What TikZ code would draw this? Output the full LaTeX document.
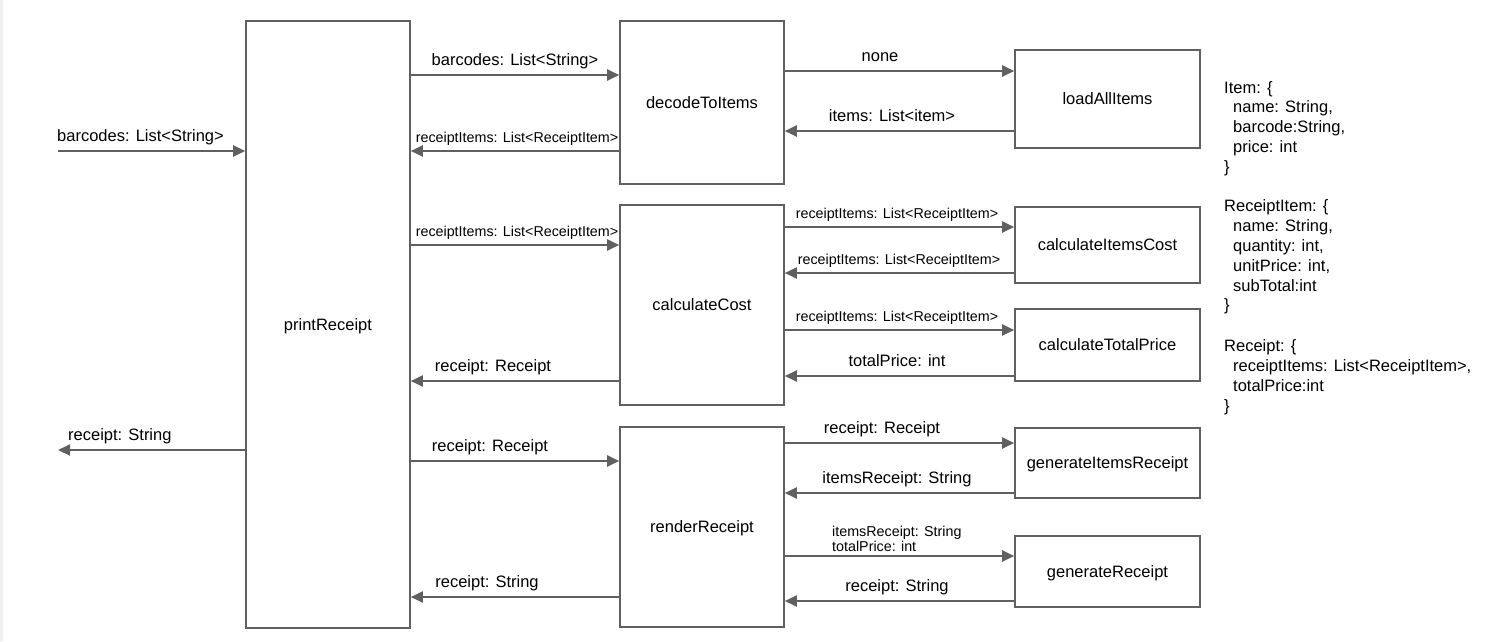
\documentclass[tikz,border=0pt]{standalone}
\usepackage{fontspec}
\setmainfont{Liberation Sans}
\usetikzlibrary{arrows.meta}
\definecolor{linegray}{RGB}{96,96,96}
\definecolor{edgegray}{RGB}{240,240,240}

\tikzset{
  fnbox/.style={draw=linegray, line width=1.6pt, minimum width=164pt, inner sep=0pt, text depth=0pt, font=\fontsize{16.5}{19.8}\selectfont},
  subbox/.style={draw=linegray, line width=1.6pt, minimum width=185pt, inner sep=0pt, text depth=0pt, font=\fontsize{16.5}{19.8}\selectfont},
  flow/.style={draw=linegray, line width=2pt, -{Triangle[length=12pt,width=11pt]}},
  lbl/.style={draw=none, inner sep=0pt, anchor=base, font=\fontsize{16.5}{19.8}\selectfont},
  slbl/.style={draw=none, inner sep=0pt, anchor=base, font=\fontsize{14.3}{15.7}\selectfont},
}

\begin{document}
\begin{tikzpicture}[x=1pt, y=-1pt]
        \useasboundingbox (0,0) rectangle (1503,641);
        \fill[edgegray] (0,0) rectangle (3,641);

		\node[fnbox, minimum height=607pt] (print)at(328,324.5) {printReceipt};
		\node[fnbox, minimum height=163pt] (decode)at(702,102.5) {decodeToItems};
		\node[fnbox, minimum height=200pt] (cost)at(702,305) {calculateCost};
		\node[fnbox, minimum height=200pt] (render)at(702,527) {renderReceipt};

		\node[subbox, minimum height=98pt] (load)at(1107.5,99) {loadAllItems};
		\node[subbox, minimum height=76pt] (itemscost)at(1107.5,245) {calculateItemsCost};
		\node[subbox, minimum height=72pt] (total)at(1107.5,345) {calculateTotalPrice};
		\node[subbox, minimum height=70pt] (itemsrcpt)at(1107.5,463) {generateItemsReceipt};
		\node[subbox, minimum height=71pt] (rcpt)at(1107.5,571.5) {generateReceipt};

        \coordinate (in)at(58,151);
        \coordinate (out)at(58,450);

		\draw[flow] (in) -- (print.west |- in);
		\draw[flow] (print.west |- out) -- (out);
		\draw[flow] (print.east |- 0,75) -- (decode.west |- 0,75);
		\draw[flow] (decode.west |- 0,151) -- (print.east |- 0,151);
		\draw[flow] (print.east |- 0,245) -- (cost.west |- 0,245);
		\draw[flow] (cost.west |- 0,381) -- (print.east |- 0,381);
		\draw[flow] (print.east |- 0,461) -- (render.west |- 0,461);
		\draw[flow] (render.west |- 0,597) -- (print.east |- 0,597);

		\draw[flow] (decode.east |- 0,71) -- (load.west |- 0,71);
		\draw[flow] (load.west |- 0,131) -- (decode.east |- 0,131);
		\draw[flow] (cost.east |- 0,227) -- (itemscost.west |- 0,227);
		\draw[flow] (itemscost.west |- 0,273) -- (cost.east |- 0,273);
		\draw[flow] (cost.east |- 0,330) -- (total.west |- 0,330);
		\draw[flow] (total.west |- 0,376) -- (cost.east |- 0,376);
		\draw[flow] (render.east |- 0,443) -- (itemsrcpt.west |- 0,443);
		\draw[flow] (itemsrcpt.west |- 0,493) -- (render.east |- 0,493);
		\draw[flow] (render.east |- 0,556) -- (rcpt.west |- 0,556);
		\draw[flow] (rcpt.west |- 0,601) -- (render.east |- 0,601);

        \node[lbl, anchor=base west] (l0)at(57,141) {barcodes: List<String>};
        \node[lbl, anchor=base west] (l1)at(68,440) {receipt: String};
        \node[lbl] (l2)at(515,65) {barcodes: List<String>};
        \node[slbl] (l3)at(517,142.5) {receiptItems: List<ReceiptItem>};
        \node[slbl] (l4)at(517,236.5) {receiptItems: List<ReceiptItem>};
        \node[lbl] (l5)at(493,371) {receipt: Receipt};
        \node[lbl] (l6)at(490,451) {receipt: Receipt};
        \node[lbl] (l7)at(487,587) {receipt: String};
        \node[lbl] (l8)at(880,61) {none};
        \node[lbl] (l9)at(892,121) {items: List<item>};
        \node[slbl] (l10)at(897,218.5) {receiptItems: List<ReceiptItem>};
        \node[slbl] (l11)at(899,264.5) {receiptItems: List<ReceiptItem>};
        \node[slbl] (l12)at(897,321.5) {receiptItems: List<ReceiptItem>};
        \node[lbl] (l13)at(897,366) {totalPrice: int};
        \node[lbl] (l14)at(882,433) {receipt: Receipt};
        \node[lbl] (l15)at(897,483) {itemsReceipt: String};
        \node[slbl, anchor=base west] (l16)at(832,536) {itemsReceipt: String};
        \node[slbl, anchor=base west] (l17)at(832,551.7) {totalPrice: int};
        \node[lbl] (l18)at(897,591) {receipt: String};

        \node[draw=none, inner sep=0pt, anchor=north west, align=left, font=\fontsize{16.5}{19.8}\selectfont] (types)at(1224,79) {\strut Item: \{\\
          \hspace*{9pt}name: String,\\
          \hspace*{9pt}barcode:String,\\
          \hspace*{9pt}price: int\\
          \}\\[19.8pt]
          ReceiptItem: \{\\
          \hspace*{9pt}name: String,\\
          \hspace*{9pt}quantity: int,\\
          \hspace*{9pt}unitPrice: int,\\
          \hspace*{9pt}subTotal:int\\
          \}\\[21pt]
          Receipt: \{\\
          \hspace*{9pt}receiptItems: List<ReceiptItem>,\\
          \hspace*{9pt}totalPrice:int\\
          \}};

\end{tikzpicture}
\end{document}
